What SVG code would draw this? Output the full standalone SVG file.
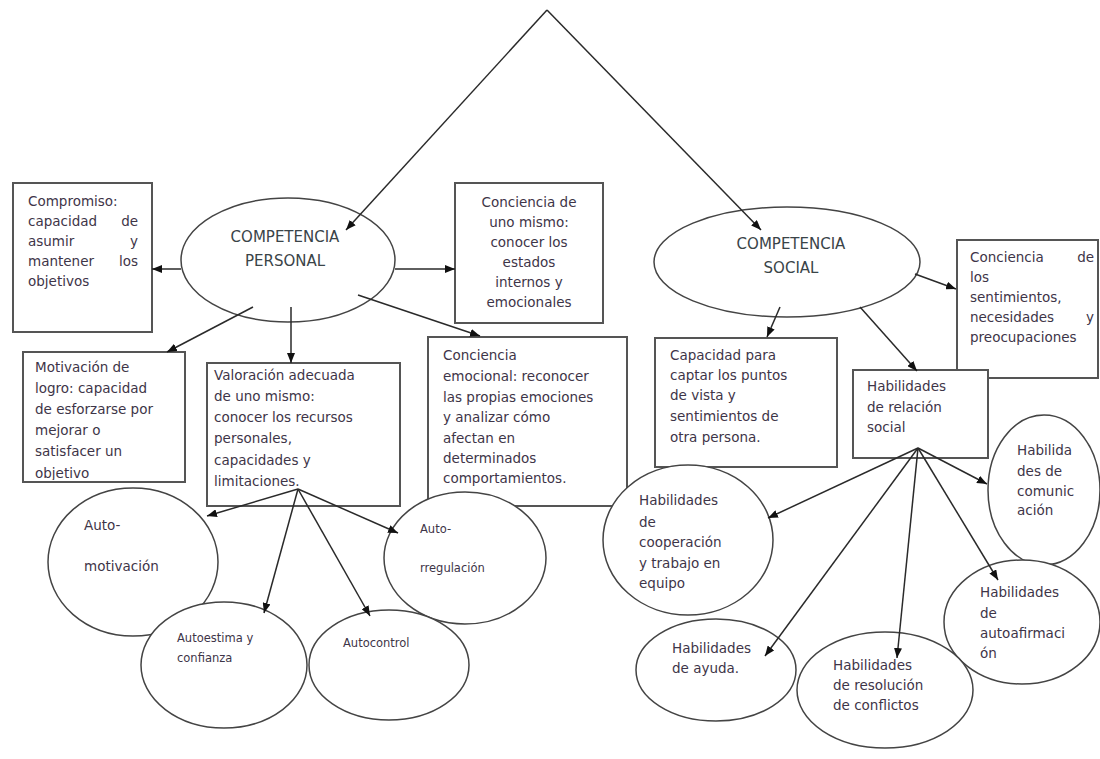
<svg xmlns="http://www.w3.org/2000/svg" width="1100" height="759" viewBox="0 0 1100 759">
<style>
.bx{fill:#fff;stroke:#555;stroke-width:2}
.el{fill:#fff;stroke:#444;stroke-width:1.5}
.t{font-family:"DejaVu Sans",Verdana,sans-serif;font-size:13.5px;fill:#3e3548}
.s{font-family:"DejaVu Sans",Verdana,sans-serif;font-size:11.5px;fill:#3e3548}
.h{font-family:"DejaVu Sans",Verdana,sans-serif;font-size:15px;fill:#3a4448}
.c{text-anchor:middle}
.r{text-anchor:end}
.ln{stroke:#2a2a2a;stroke-width:1.5;fill:none}
</style>
<defs>
<marker id="ah" markerWidth="10" markerHeight="8" refX="10" refY="4" orient="auto" markerUnits="userSpaceOnUse">
<path d="M0,0 L10,4 L0,8 z" fill="#111"/>
</marker>
<clipPath id="cm"><rect x="23" y="352" width="162" height="128"/></clipPath>
</defs>
<rect width="1100" height="759" fill="#fff"/>

<g id="competencia-personal">
<ellipse class="el" cx="288" cy="260" rx="107" ry="62"/>
<text class="h c" x="285" y="242">COMPETENCIA</text>
<text class="h c" x="285" y="266">PERSONAL</text>
</g>
<g id="competencia-social">
<ellipse class="el" cx="787" cy="262" rx="133" ry="55"/>
<text class="h c" x="791" y="249">COMPETENCIA</text>
<text class="h c" x="791" y="273">SOCIAL</text>
</g>

<g id="compromiso">
<rect class="bx" x="13" y="183" width="139" height="149"/>
<text class="t" x="28" y="206">Compromiso:</text>
<text class="t" x="28" y="226">capacidad</text>
<text class="t r" x="138" y="226">de</text>
<text class="t" x="28" y="246">asumir</text>
<text class="t r" x="138" y="246">y</text>
<text class="t" x="28" y="266">mantener</text>
<text class="t r" x="138" y="266">los</text>
<text class="t" x="28" y="286">objetivos</text>
</g>

<g id="conciencia-uno-mismo">
<rect class="bx" x="455" y="183" width="148" height="140"/>
<text class="t c" x="529" y="207">Conciencia de</text>
<text class="t c" x="529" y="227">uno mismo:</text>
<text class="t c" x="529" y="247">conocer los</text>
<text class="t c" x="529" y="267">estados</text>
<text class="t c" x="529" y="287">internos y</text>
<text class="t c" x="529" y="307">emocionales</text>
</g>

<g id="conciencia-sentimientos">
<rect class="bx" x="957" y="240" width="141" height="138"/>
<text class="t" x="970" y="262">Conciencia</text>
<text class="t r" x="1094" y="262">de</text>
<text class="t" x="970" y="282">los</text>
<text class="t" x="970" y="302">sentimientos,</text>
<text class="t" x="970" y="322">necesidades</text>
<text class="t r" x="1094" y="322">y</text>
<text class="t" x="970" y="342">preocupaciones</text>
</g>

<g id="motivacion-logro">
<rect class="bx" x="23" y="352" width="162" height="130"/>
<g clip-path="url(#cm)">
<text class="t" x="35" y="372">Motivación de</text>
<text class="t" x="35" y="393">logro: capacidad</text>
<text class="t" x="35" y="414">de esforzarse por</text>
<text class="t" x="35" y="435">mejorar o</text>
<text class="t" x="35" y="456">satisfacer un</text>
<text class="t" x="35" y="478">objetivo</text>
</g>
</g>

<g id="valoracion">
<rect class="bx" x="207" y="363" width="193" height="143"/>
<text class="t" x="214" y="380">Valoración adecuada</text>
<text class="t" x="214" y="401">de uno mismo:</text>
<text class="t" x="214" y="422">conocer los recursos</text>
<text class="t" x="214" y="443">personales,</text>
<text class="t" x="214" y="465">capacidades y</text>
<text class="t" x="214" y="486">limitaciones.</text>
</g>

<g id="conciencia-emocional">
<rect class="bx" x="428" y="337" width="199" height="169"/>
<text class="t" x="443" y="360">Conciencia</text>
<text class="t" x="443" y="381">emocional: reconocer</text>
<text class="t" x="443" y="402">las propias emociones</text>
<text class="t" x="443" y="422">y analizar cómo</text>
<text class="t" x="443" y="443">afectan en</text>
<text class="t" x="443" y="463">determinados</text>
<text class="t" x="443" y="483">comportamientos.</text>
</g>

<g id="capacidad-captar">
<rect class="bx" x="655" y="338" width="182" height="129"/>
<text class="t" x="670" y="360">Capacidad para</text>
<text class="t" x="670" y="380">captar los puntos</text>
<text class="t" x="670" y="400">de vista y</text>
<text class="t" x="670" y="421">sentimientos de</text>
<text class="t" x="670" y="442">otra persona.</text>
</g>

<g id="habilidades-relacion">
<rect class="bx" x="853" y="370" width="135" height="88"/>
<text class="t" x="867" y="391">Habilidades</text>
<text class="t" x="867" y="412">de relación</text>
<text class="t" x="867" y="432">social</text>
</g>

<g id="auto-motivacion">
<ellipse class="el" cx="133" cy="562" rx="85" ry="74"/>
<text class="t" x="84" y="530">Auto-</text>
<text class="t" x="84" y="571">motivación</text>
</g>
<g id="auto-rregulacion">
<ellipse class="el" cx="465" cy="558" rx="81" ry="66"/>
<text class="s" x="420" y="533">Auto-</text>
<text class="s" x="420" y="572">rregulación</text>
</g>
<g id="autoestima">
<ellipse class="el" cx="224" cy="665" rx="83" ry="63"/>
<text class="s" x="177" y="642">Autoestima  y</text>
<text class="s" x="177" y="662">confianza</text>
</g>
<g id="autocontrol">
<ellipse class="el" cx="389" cy="665" rx="80" ry="55"/>
<text class="s" x="343" y="647">Autocontrol</text>
</g>

<g id="hab-cooperacion">
<ellipse class="el" cx="688" cy="540" rx="85" ry="75"/>
<text class="t" x="639" y="505">Habilidades</text>
<text class="t" x="639" y="527">de</text>
<text class="t" x="639" y="547">cooperación</text>
<text class="t" x="639" y="568">y trabajo en</text>
<text class="t" x="639" y="588">equipo</text>
</g>
<g id="hab-comunicacion">
<ellipse class="el" cx="1044" cy="490" rx="56" ry="75"/>
<text class="t" x="1017" y="455">Habilida</text>
<text class="t" x="1017" y="476">des de</text>
<text class="t" x="1017" y="496">comunic</text>
<text class="t" x="1017" y="515">ación</text>
</g>
<g id="hab-autoafirmacion">
<ellipse class="el" cx="1022" cy="622" rx="78" ry="62"/>
<text class="t" x="980" y="597">Habilidades</text>
<text class="t" x="980" y="618">de</text>
<text class="t" x="980" y="638">autoafirmaci</text>
<text class="t" x="980" y="658">ón</text>
</g>
<g id="hab-ayuda">
<ellipse class="el" cx="716" cy="670" rx="80" ry="51"/>
<text class="t" x="672" y="653">Habilidades</text>
<text class="t" x="672" y="673">de ayuda.</text>
</g>
<g id="hab-resolucion">
<ellipse class="el" cx="885" cy="690" rx="88" ry="58"/>
<text class="t" x="833" y="670">Habilidades</text>
<text class="t" x="833" y="690">de resolución</text>
<text class="t" x="833" y="710">de conflictos</text>
</g>

<g id="connectors" class="ln">
<line x1="547" y1="10" x2="346" y2="230" marker-end="url(#ah)"/>
<line x1="547" y1="10" x2="761" y2="230" marker-end="url(#ah)"/>
<line x1="181" y1="269" x2="152" y2="269" marker-end="url(#ah)"/>
<line x1="395" y1="269" x2="455" y2="269" marker-end="url(#ah)"/>
<line x1="358" y1="295" x2="480" y2="336" marker-end="url(#ah)"/>
<line x1="253" y1="307" x2="167" y2="352" marker-end="url(#ah)"/>
<line x1="291" y1="307" x2="291" y2="363" marker-end="url(#ah)"/>
<line x1="780" y1="307" x2="767" y2="337" marker-end="url(#ah)"/>
<line x1="915" y1="274" x2="956" y2="289" marker-end="url(#ah)"/>
<line x1="860" y1="307" x2="917" y2="371" marker-end="url(#ah)"/>
<line x1="298" y1="489" x2="207" y2="516" marker-end="url(#ah)"/>
<line x1="298" y1="489" x2="264" y2="613" marker-end="url(#ah)"/>
<line x1="298" y1="489" x2="370" y2="616" marker-end="url(#ah)"/>
<line x1="298" y1="489" x2="398" y2="533" marker-end="url(#ah)"/>
<line x1="918" y1="448" x2="768" y2="518" marker-end="url(#ah)"/>
<line x1="918" y1="448" x2="765" y2="656" marker-end="url(#ah)"/>
<line x1="918" y1="448" x2="897" y2="658" marker-end="url(#ah)"/>
<line x1="918" y1="448" x2="998" y2="580" marker-end="url(#ah)"/>
<line x1="918" y1="448" x2="987" y2="484" marker-end="url(#ah)"/>
</g>
</svg>
